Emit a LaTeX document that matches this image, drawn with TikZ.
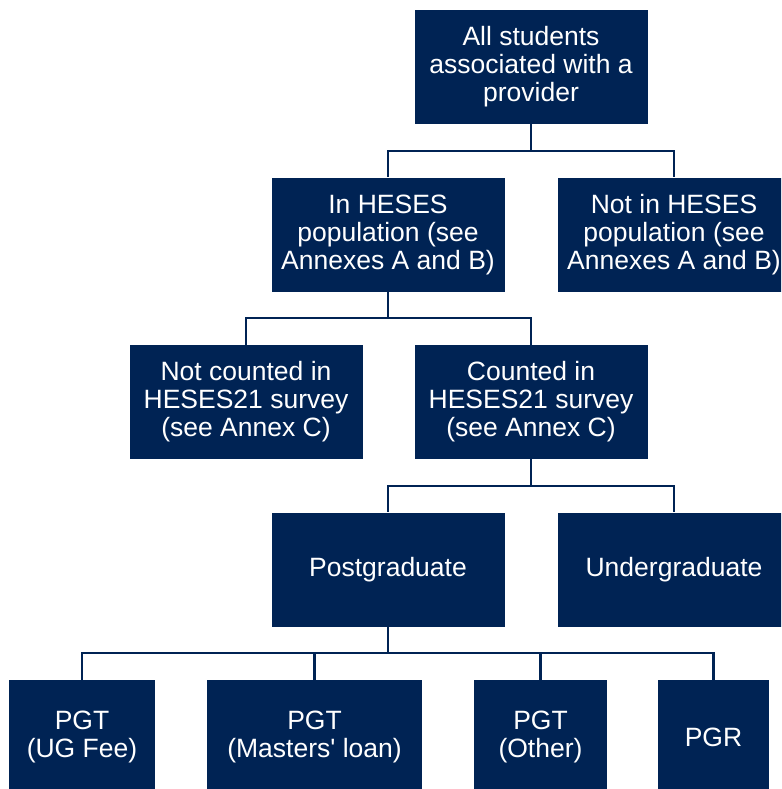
\documentclass[tikz,border=0pt]{standalone}
\usepackage{fontspec}
\setmainfont{Liberation Sans}[Ligatures=TeXOff]
\usetikzlibrary{positioning}
\definecolor{navy}{HTML}{002354}
\begin{document}
\begin{tikzpicture}[
  node distance=167.5pt,
  box/.style={fill=navy, text=white, align=center, inner sep=0pt,
    minimum width=233pt, minimum height=114pt,
    font=\fontsize{26.5}{28}\selectfont},
  link/.style={draw=navy, line width=2.2pt}
  ]
  \useasboundingbox (0,0) rectangle (781pt,-789pt);
  \clip (0,0) rectangle (781pt,-789pt);

  % Nodes
  \node (all) [box] at (531pt,-67pt) {All students\\associated with a\\provider};
  \node (inheses) [box, below of=all, xshift=-143pt] {In HESES\\population (see\\Annexes A and B)};
  \node (notinheses) [box, below of=all, xshift=143pt] {Not in HESES\\population (see\\Annexes A and B)};
  \node (notcounted) [box, below of=inheses, xshift=-142pt] {Not counted in\\HESES21 survey\\(see Annex C)};
  \node (counted) [box, below of=inheses, xshift=143pt] {Counted in\\HESES21 survey\\(see Annex C)};
  \node (postgrad) [box, below of=counted, xshift=-143pt] {Postgraduate};
  \node (undergrad) [box, below of=counted, xshift=143pt] {Undergraduate};
  \node (ugfee) [box, below of=postgrad, xshift=-306pt, minimum width=146pt] {PGT\\(UG Fee)};
  \node (loan) [box, below of=postgrad, xshift=-73.5pt, minimum width=215pt] {PGT\\(Masters' loan)};
  \node (other) [box, below of=postgrad, xshift=152.5pt, minimum width=133pt] {PGT\\(Other)};
  \node (pgr) [box, below of=postgrad, xshift=325.5pt, minimum width=111pt] {PGR};

  % Connections
  \draw[link] (all.south) -- ++(0,-26.5pt) -| (inheses.north);
  \draw[link] (all.south) -- ++(0,-26.5pt) -| (notinheses.north);
  \draw[link] (inheses.south) -- ++(0,-26.5pt) -| (notcounted.north);
  \draw[link] (inheses.south) -- ++(0,-26.5pt) -| (counted.north);
  \draw[link] (counted.south) -- ++(0,-26.5pt) -| (postgrad.north);
  \draw[link] (counted.south) -- ++(0,-26.5pt) -| (undergrad.north);
  \draw[link] (postgrad.south) -- ++(0,-26.5pt) -| (ugfee.north);
  \draw[link] (postgrad.south) -- ++(0,-26.5pt) -| (loan.north);
  \draw[link] (postgrad.south) -- ++(0,-26.5pt) -| (other.north);
  \draw[link] (postgrad.south) -- ++(0,-26.5pt) -| (pgr.north);

\end{tikzpicture}
\end{document}
